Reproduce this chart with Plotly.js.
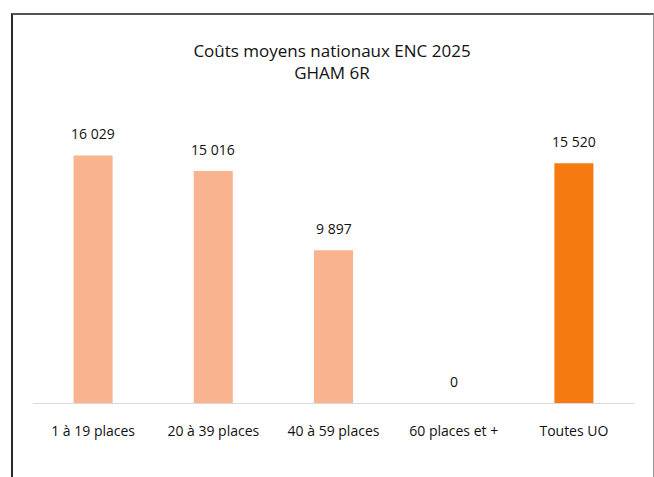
<!DOCTYPE html>
<html>
<head>
<meta charset="utf-8">
<script src="https://cdn.plot.ly/plotly-3.0.1.min.js"></script>
<style>
  html, body { margin: 0; padding: 0; background: #fff; }
  #wrap { position: relative; width: 654px; height: 477px; }
  #chart { position: absolute; left: 0; top: 0; width: 654px; height: 477px; }
  #frame { position: absolute; left: 11px; top: 13px; width: 640px; height: 480px;
           border-left: 2px solid #2a2a2a; border-top: 2px solid #555; border-right: 1px solid #999;
           pointer-events: none; }
</style>
</head>
<body>
<div id="wrap">
  <div id="chart"></div>
  <div id="frame"></div>
</div>
<script>
const categories = ["1 à 19 places", "20 à 39 places", "40 à 59 places", "60 places et +", "Toutes UO"];
const values = [16029, 15016, 9897, 0, 15520];
const barColors = ["#F9B48F", "#F9B48F", "#F9B48F", "#F9B48F", "#F57A10"];
const titleText = "Coûts moyens nationaux ENC 2025<br>GHAM 6R";

const fontFam = "'Open Sans', 'Noto Sans', sans-serif";

const trace = {
  type: "bar",
  x: categories,
  y: values,
  marker: { color: barColors },
  hoverinfo: "none"
};

const annotations = categories.map((c, i) => ({
  x: c, y: values[i], xref: "x", yref: "y",
  text: values[i].toLocaleString("fr-FR").replace(/\u202f|\u00a0/g, " "),
  showarrow: false, yanchor: "bottom", yshift: 10,
  font: { family: fontFam, size: 14, color: "#111" }
}));

const layout = {
  width: 654, height: 477,
  margin: { l: 33, r: 20, t: 125, b: 74 },
  paper_bgcolor: "#fff", plot_bgcolor: "#fff",
  bargap: 0.675,
  showlegend: false,
  title: {
    text: titleText,
    x: 332 / 654, xref: "container", xanchor: "center",
    y: 1 - 57 / 477, yref: "container", yanchor: "middle",
    font: { family: fontFam, size: 17, color: "#111" }
  },
  xaxis: {
    tickfont: { family: fontFam, size: 14, color: "#111" },
    showline: false, ticks: "", showgrid: false,
    ticklabelstandoff: 18
  },
  yaxis: {
    range: [0, 18000], visible: true, showticklabels: false, showgrid: false,
    zeroline: true, zerolinecolor: "#d9d9d9", zerolinewidth: 1, ticks: ""
  },
  annotations: annotations
};

Plotly.newPlot("chart", [trace], layout, { displayModeBar: false, staticPlot: true });
</script>
</body>
</html>
